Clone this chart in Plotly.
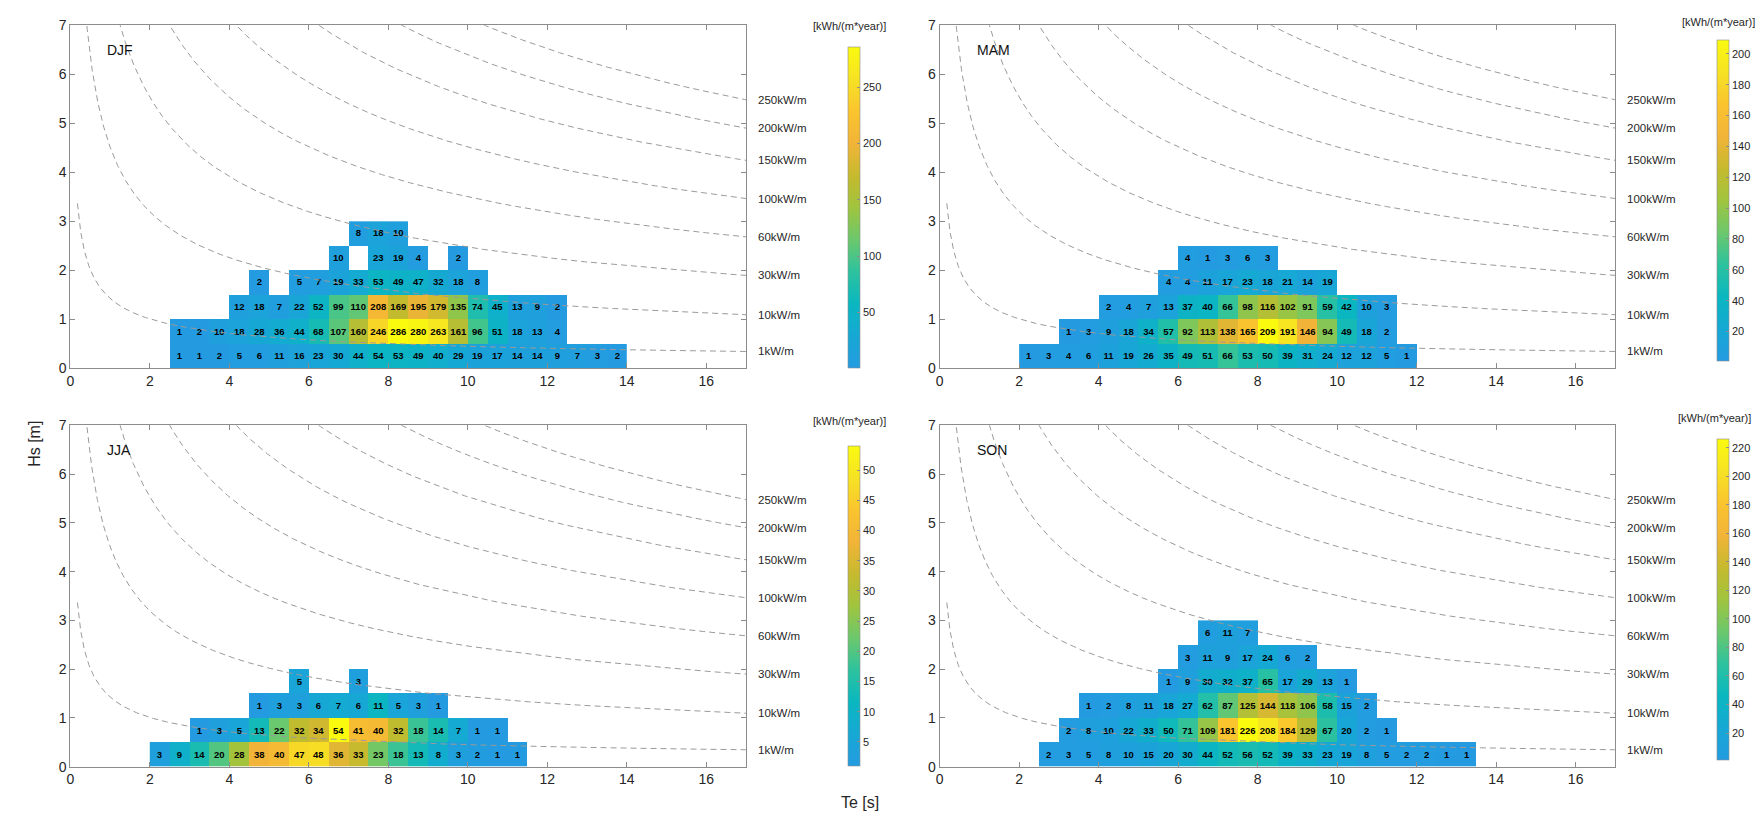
import numpy as np
import plotly.graph_objects as go

# ---- Energy per bin [kWh/(m*year)] by season ----
# Bins are 0.5 s in Te and 0.5 m in Hs; each row lists its first Te edge
# followed by consecutive bin values (None = empty bin).
HS_ROWS = [0.0, 0.5, 1.0, 1.5, 2.0, 2.5]

djf_start = [2.5, 2.5, 4.0, 4.5, 6.5, 7.0]
djf_rows = [
    [1, 1, 2, 5, 6, 11, 16, 23, 30, 44, 54, 53, 49, 40, 29, 19, 17, 14, 14, 9, 7, 3, 2],
    [1, 2, 10, 18, 28, 36, 44, 68, 107, 160, 246, 286, 280, 263, 161, 96, 51, 18, 13, 4],
    [12, 18, 7, 22, 52, 99, 110, 208, 169, 195, 179, 135, 74, 45, 13, 9, 2],
    [2, None, 5, 7, 19, 33, 53, 49, 47, 32, 18, 8],
    [10, None, 23, 19, 4, None, 2],
    [8, 18, 10],
]

mam_start = [2.0, 3.0, 4.0, 5.5, 6.0]
mam_rows = [
    [1, 3, 4, 6, 11, 19, 26, 35, 49, 51, 66, 53, 50, 39, 31, 24, 12, 12, 5, 1],
    [1, 3, 9, 18, 34, 57, 92, 113, 138, 165, 209, 191, 146, 94, 49, 18, 2],
    [2, 4, 7, 13, 37, 40, 66, 98, 116, 102, 91, 59, 42, 10, 3],
    [4, 4, 11, 17, 23, 18, 21, 14, 19],
    [4, 1, 3, 6, 3],
]

jja_start = [2.0, 3.0, 4.5, 5.5]
jja_rows = [
    [3, 9, 14, 20, 28, 38, 40, 47, 48, 36, 33, 23, 18, 13, 8, 3, 2, 1, 1],
    [1, 3, 5, 13, 22, 32, 34, 54, 41, 40, 32, 18, 14, 7, 1, 1],
    [1, 3, 3, 6, 7, 6, 11, 5, 3, 1],
    [5, None, None, 3],
]

son_start = [2.5, 3.0, 3.5, 5.5, 6.0, 6.5]
son_rows = [
    [2, 3, 5, 8, 10, 15, 20, 30, 44, 52, 56, 52, 39, 33, 23, 19, 8, 5, 2, 2, 1, 1],
    [2, 8, 10, 22, 33, 50, 71, 109, 181, 226, 208, 184, 129, 67, 20, 2, 1],
    [1, 2, 8, 11, 18, 27, 62, 87, 125, 144, 118, 106, 58, 15, 2],
    [1, 9, 30, 32, 37, 65, 17, 29, 13, 1],
    [3, 11, 9, 17, 24, 6, 2],
    [6, 11, 7],
]

SEASONS = ["DJF", "MAM", "JJA", "SON"]
CBAR_TICKS = {
    "DJF": [50, 100, 150, 200, 250],
    "MAM": [20, 40, 60, 80, 100, 120, 140, 160, 180, 200],
    "JJA": [5, 10, 15, 20, 25, 30, 35, 40, 45, 50],
    "SON": [20, 40, 60, 80, 100, 120, 140, 160, 180, 200, 220],
}

# Iso-power lines P = 0.49 * Hs^2 * Te  [kW/m]
POWER_LEVELS = [1, 10, 30, 60, 100, 150, 200, 250]
POWER_COEF = 0.49

BIN = 0.5
TE_LO, TE_HI = 2.0, 14.0
TE_MAX, HS_MAX = 17.0, 7.0
te_centers = np.arange(TE_LO + BIN / 2, TE_HI, BIN)
hs_centers = np.array(HS_ROWS) + BIN / 2

SCALE = [
    [0.00, "rgb(36,155,225)"],
    [0.10, "rgb(22,168,212)"],
    [0.20, "rgb(10,183,192)"],
    [0.30, "rgb(45,194,158)"],
    [0.40, "rgb(108,200,108)"],
    [0.50, "rgb(160,196,62)"],
    [0.60, "rgb(198,186,46)"],
    [0.70, "rgb(242,180,56)"],
    [0.80, "rgb(250,196,46)"],
    [0.90, "rgb(246,226,36)"],
    [1.00, "rgb(250,250,15)"],
]

FONT = "Liberation Sans, Arial, sans-serif"
TXT = "#262626"
AXC = "#8c8c8c"


def to_grid(starts, rows):
    z = [[None] * len(te_centers) for _ in HS_ROWS]
    for r, (s, vals) in enumerate(zip(starts, rows)):
        i0 = int(round((s - TE_LO) / BIN))
        for k, v in enumerate(vals):
            z[r][i0 + k] = v
    return z


data = {
    "DJF": to_grid(djf_start, djf_rows),
    "MAM": to_grid(mam_start, mam_rows),
    "JJA": to_grid(jja_start, jja_rows),
    "SON": to_grid(son_start, son_rows),
}

W, H = 1764, 835
# plot-area pixel boxes: (left, right, top, bottom)
boxes = {
    "DJF": (66.7, 746.7, 17.5, 367.5),
    "MAM": (941.5, 1621.5, 17.5, 367.5),
    "JJA": (66.7, 746.7, 425.5, 773.5),
    "SON": (941.5, 1621.5, 425.5, 773.5),
}
# colorbar pixel boxes: (left, top, bottom), title centre (x, y)
cbars = {
    "DJF": (839.5, 29.0, 377.0, 851.0, 18.0),
    "MAM": (1713.5, 22.0, 370.0, 1725.0, 14.0),
    "JJA": (839.5, 436.0, 783.0, 851.0, 421.0),
    "SON": (1713.5, 429.0, 777.0, 1721.0, 418.0),
}

fig = go.Figure()
layout_axes = {}
annotations = []

te_curve = np.linspace(0.18, TE_MAX, 3000)

for n, season in enumerate(SEASONS, start=1):
    sfx = "" if n == 1 else str(n)
    xa, ya = f"x{sfx}", f"y{sfx}"
    z = data[season]
    vals = [v for row in z for v in row if v is not None]
    zmin, zmax = min(vals), max(vals)
    text = [["" if v is None else str(v) for v in row] for row in z]
    l, r, t, b = boxes[season]

    cl, ct, cb, tx, ty = cbars[season]
    fig.add_trace(go.Heatmap(
        x=te_centers, y=hs_centers, z=z, text=text,
        texttemplate="%{text}",
        textfont=dict(family=FONT, size=9.5, color="black", weight="bold"),
        colorscale=SCALE, zmin=zmin, zmax=zmax,
        xaxis=xa, yaxis=ya, hoverinfo="skip",
        colorbar=dict(
            x=cl / W, xanchor="left", thickness=12, thicknessmode="pixels",
            y=1 - cb / H, yanchor="bottom", len=(cb - ct) / H, lenmode="fraction",
            tickvals=CBAR_TICKS[season], ticks="inside", ticklen=3,
            tickcolor=AXC, outlinewidth=0.6, outlinecolor=AXC,
            tickfont=dict(family=FONT, size=11, color=TXT),
        ),
    ))

    for p in POWER_LEVELS:
        hs_curve = np.sqrt(p / (POWER_COEF * te_curve))
        fig.add_trace(go.Scatter(
            x=te_curve, y=hs_curve, mode="lines",
            line=dict(color="#9a9a9a", width=1, dash="6px,4px"),
            xaxis=xa, yaxis=ya, hoverinfo="skip", showlegend=False,
        ))
        # label just outside the right edge, at the line's end height
        hs_end = float(np.sqrt(p / (POWER_COEF * TE_MAX)))
        px_y = b - (b - t) * hs_end / HS_MAX
        annotations.append(dict(
            x=(r + 10) / W, y=1 - px_y / H,
            xref="paper", yref="paper", xanchor="left", yanchor="middle",
            text=f"{p}kW/m", showarrow=False,
            font=dict(family=FONT, size=11.5, color=TXT),
        ))

    annotations.append(dict(
        x=0.88, y=6.5, xref=xa, yref=ya, xanchor="left", yanchor="middle",
        text=season, showarrow=False,
        font=dict(family=FONT, size=14, color="#111111"),
    ))
    annotations.append(dict(
        x=tx / W, y=1 - ty / H, xref="paper", yref="paper",
        xanchor="center", yanchor="middle", text="[kWh/(m*year)]",
        showarrow=False, font=dict(family=FONT, size=11, color=TXT),
    ))

    common = dict(
        showline=True, linecolor=AXC, linewidth=1, mirror="ticks",
        ticks="inside", ticklen=5, tickcolor=AXC, showgrid=False,
        zeroline=False, tickfont=dict(family=FONT, size=14, color=TXT),
    )
    layout_axes[f"xaxis{sfx}"] = dict(
        domain=[l / W, r / W], range=[0, TE_MAX], tickvals=list(range(0, 17, 2)),
        anchor=ya, **common)
    layout_axes[f"yaxis{sfx}"] = dict(
        domain=[1 - b / H, 1 - t / H], range=[0, HS_MAX], tickvals=list(range(0, 8)),
        anchor=xa, **common)

annotations.append(dict(
    x=20 / W, y=1 - 444 / H, xref="paper", yref="paper", text="Hs [m]",
    textangle=-90, showarrow=False, font=dict(family=FONT, size=16, color=TXT)))
annotations.append(dict(
    x=861 / W, y=1 - 821 / H, xref="paper", yref="paper", text="Te [s]",
    showarrow=False, font=dict(family=FONT, size=16, color=TXT)))

fig.update_layout(
    width=W, height=H, margin=dict(l=0, r=0, t=0, b=0),
    paper_bgcolor="white", plot_bgcolor="white", showlegend=False,
    annotations=annotations, **layout_axes,
)

fig.write_html("out.html")
